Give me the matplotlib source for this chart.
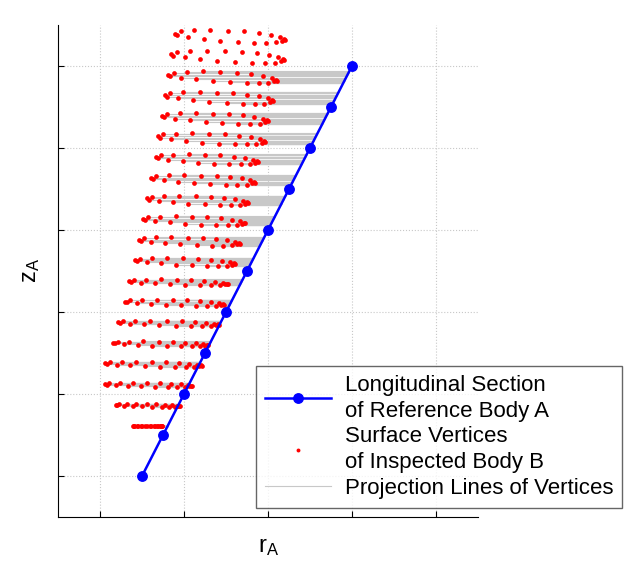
import numpy as np
import matplotlib.pyplot as plt
from matplotlib.lines import Line2D

# =========================================================
# 1. CONFIG
# =========================================================

SECTION_COLOR = "#0000FF"
VERTEX_COLOR = "#FF0000"
PROJECTION_COLOR = "#C8C8C8"
GRID_COLOR = "#C8C8C8"

plt.rcParams["font.family"] = ["Liberation Sans", "DejaVu Sans"]
plt.rcParams["mathtext.fontset"] = "custom"
plt.rcParams["mathtext.rm"] = "Liberation Sans"
plt.rcParams["mathtext.it"] = "Liberation Sans"

# =========================================================
# 2. DATA
# =========================================================

# longitudinal section of reference body A (r, z)
section_r = [1.50, 1.75, 2.00, 2.25, 2.50, 2.75, 3.00, 3.25, 3.50, 3.75, 4.00]
section_z = [1.00, 1.50, 2.00, 2.50, 3.00, 3.50, 4.00, 4.50, 5.00, 5.50, 6.00]

# vertex rings of inspected body B, top to bottom
ring_z = [6.36, 6.11, 5.86, 5.61, 5.36, 5.11, 4.86, 4.61, 4.36, 4.11,
          3.86, 3.61, 3.36, 3.11, 2.86, 2.61, 2.36, 2.11, 1.86, 1.61]
ring_r_min = [1.893, 1.845, 1.810, 1.774, 1.738, 1.690, 1.667, 1.607, 1.560, 1.512,
              1.464, 1.417, 1.345, 1.298, 1.214, 1.155, 1.060, 1.060, 1.190, 1.393]
ring_r_max = [3.202, 3.190, 3.107, 3.060, 3.000, 2.964, 2.881, 2.845, 2.762, 2.726,
              2.667, 2.607, 2.524, 2.476, 2.417, 2.286, 2.214, 2.095, 1.952, 1.738]
ring_half_height = [0.079, 0.077, 0.073, 0.073, 0.067, 0.067, 0.061, 0.061, 0.057, 0.055,
                    0.052, 0.049, 0.037, 0.037, 0.030, 0.030, 0.030, 0.024, 0.018, 0.000]

# vertex layout inside one ring (fraction of width, fraction of half height, + = down)
ring_u = [0.00, 0.05, 0.17, 0.32, 0.48, 0.63, 0.76, 0.87, 0.95, 0.99,
          0.02, 0.12, 0.26, 0.41, 0.57, 0.72, 0.83, 0.92, 0.97, 1.00]
ring_v = [-0.43, -0.80, -0.95, -1.00, -0.85, -0.80, -0.54, -0.28, 0.08, 0.38,
          -0.18, 0.08, 0.34, 0.69, 0.85, 1.00, 1.00, 0.95, 0.69, 0.54]

# =========================================================
# 3. BUILD VERTICES
# =========================================================

vertex_r = []
vertex_z = []

for zc, r0, r1, hh in zip(ring_z, ring_r_min, ring_r_max, ring_half_height):
    for u, v in zip(ring_u, ring_v):
        vertex_r.append(r0 + u * (r1 - r0))
        vertex_z.append(zc - v * hh)

vertex_r = np.array(vertex_r)
vertex_z = np.array(vertex_z)

inside = (vertex_z >= section_z[0]) & (vertex_z <= section_z[-1])
foot_r = np.interp(vertex_z[inside], section_z, section_r)

# =========================================================
# 4. PLOT
# =========================================================

fig = plt.figure(figsize=(6.26, 5.67), dpi=100)
ax = fig.add_axes([0.0927, 0.0882, 0.671, 0.868])

ax.hlines(
    vertex_z[inside],
    vertex_r[inside],
    foot_r,
    color=PROJECTION_COLOR,
    linewidth=0.8,
    zorder=1,
)

ax.plot(
    vertex_r,
    vertex_z,
    linestyle="none",
    marker="o",
    markersize=3.4,
    markerfacecolor=VERTEX_COLOR,
    markeredgecolor="none",
    zorder=2,
)

ax.plot(
    section_r,
    section_z,
    color=SECTION_COLOR,
    linewidth=1.8,
    marker="o",
    markersize=6.8,
    zorder=3,
)

ax.set_xlim(0.5, 5.5)
ax.set_ylim(0.5, 6.5)
ax.set_xticks([1, 2, 3, 4, 5])
ax.set_yticks([1, 2, 3, 4, 5, 6])
ax.set_xticklabels([])
ax.set_yticklabels([])
ax.tick_params(direction="in", length=4, width=0.8)

ax.grid(True, linestyle=":", color=GRID_COLOR, linewidth=0.8)
ax.set_axisbelow(True)

for side in ["top", "right"]:
    ax.spines[side].set_visible(False)

ax.set_xlabel(r"$\mathregular{r_A}$", fontsize=17, labelpad=10)
ax.set_ylabel(r"$\mathregular{z_A}$", fontsize=17, labelpad=8)

handles = [
    Line2D([], [], color=SECTION_COLOR, linewidth=1.8, marker="o", markersize=6.8),
    Line2D([], [], linestyle="none", marker="o", markersize=2.8,
           markerfacecolor=VERTEX_COLOR, markeredgecolor="none"),
    Line2D([], [], color=PROJECTION_COLOR, linewidth=0.8),
]
labels = [
    "Longitudinal Section\nof Reference Body A",
    "Surface Vertices\nof Inspected Body B",
    "Projection Lines of Vertices",
]

legend = ax.legend(
    handles,
    labels,
    loc="lower right",
    bbox_to_anchor=(0.9936, 0.104),
    bbox_transform=fig.transFigure,
    fontsize=16,
    frameon=True,
    fancybox=False,
    handlelength=3.0,
    handletextpad=0.6,
    labelspacing=0.22,
    borderpad=0.4,
    borderaxespad=0,
)
for text in legend.get_texts():
    text.set_linespacing(1.3)
legend.get_frame().set_edgecolor("#404040")
legend.get_frame().set_linewidth(1.0)

fig.savefig("out.png", dpi=100)
plt.close(fig)

print("Saved: out.png")
